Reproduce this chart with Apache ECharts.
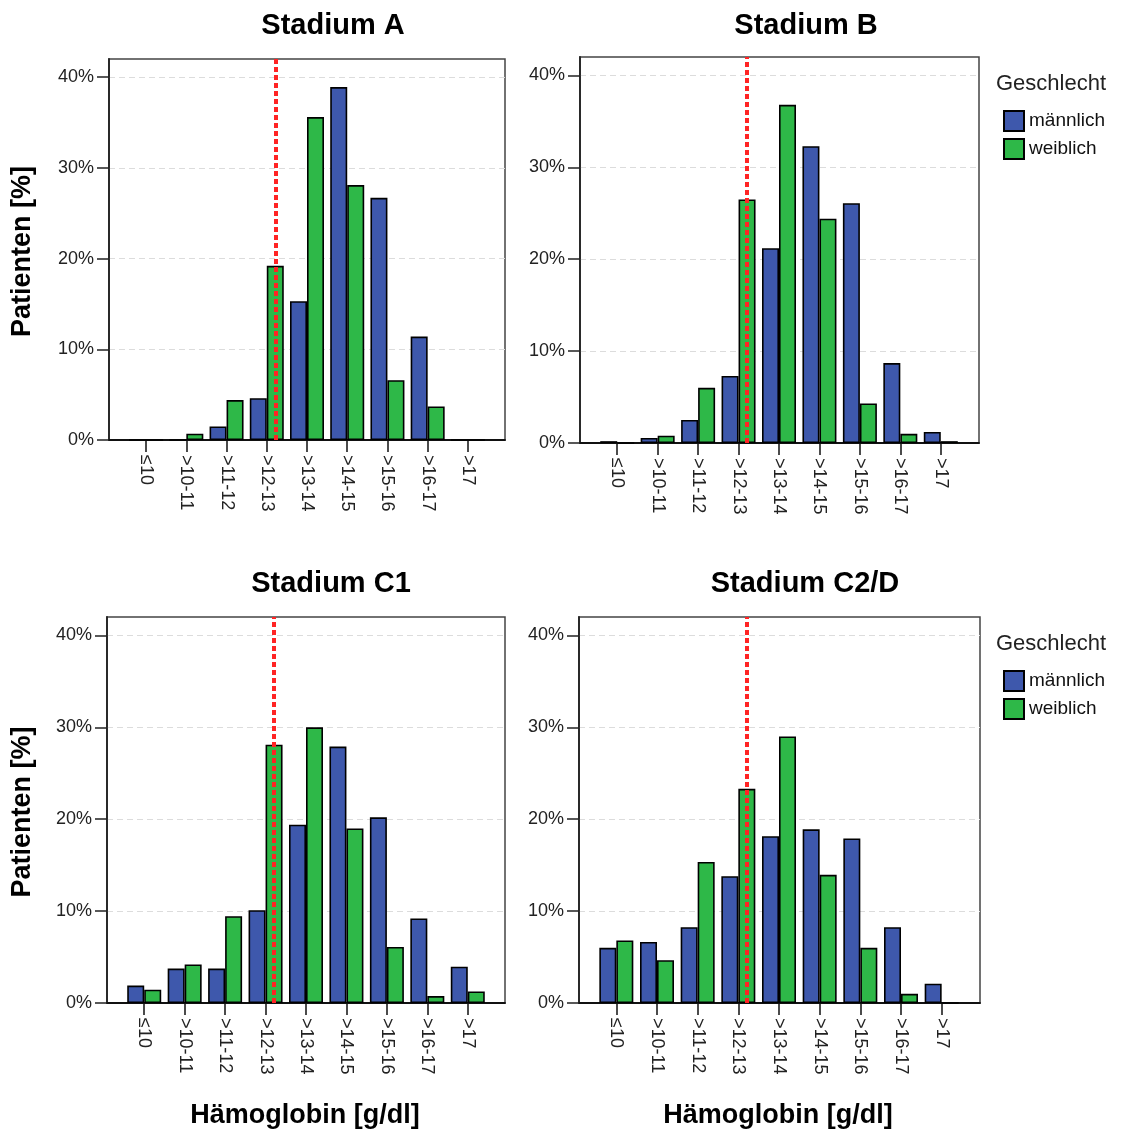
<!DOCTYPE html>
<html>
<head>
<meta charset="utf-8">
<title>Hämoglobin nach Stadium</title>
<script src="https://cdn.jsdelivr.net/npm/echarts@6/dist/echarts.min.js"></script>
<style>
  html, body { margin: 0; padding: 0; background: #fff; }
  #chart { width: 1125px; height: 1131px; }
</style>
</head>
<body>
<div id="chart"></div>
<script>
// Kategorien der Hämoglobin-Klassen
const categories = ['≤10', '>10-11', '>11-12', '>12-13', '>13-14', '>14-15', '>15-16', '>16-17', '>17'];
const yTicks = [0, 10, 20, 30, 40];

// Werte in %
const maleA = [0, 0, 1.5, 4.6, 15.3, 38.9, 26.7, 11.4, 0];
const femaleA = [0, 0.7, 4.4, 19.2, 35.6, 28.1, 6.6, 3.7, 0];
const maleB = [0.2, 0.55, 2.5, 7.3, 21.2, 32.3, 26.1, 8.7, 1.2];
const femaleB = [0, 0.8, 6.0, 26.5, 36.8, 24.4, 4.3, 1.0, 0.2];
const maleC1 = [1.9, 3.75, 3.75, 10.1, 19.4, 27.9, 20.2, 9.2, 3.95];
const femaleC1 = [1.45, 4.2, 9.45, 28.1, 30.0, 19.0, 6.1, 0.75, 1.25];
const maleD = [6.0, 6.65, 8.25, 13.8, 18.15, 18.9, 17.9, 8.25, 2.1];
const femaleD = [6.8, 4.65, 15.35, 23.3, 29.0, 13.95, 6.0, 1.0, 0];

const thresholdCategory = '>12-13';

const FONT = '"Liberation Sans", Arial, sans-serif';
const BLUE = '#3e58ac';
const GREEN = '#2eb848';

// Layout der vier Teilgrafiken (Rahmen + innerer Bereich für die Balken)
const panels = [
  {title: 'Stadium A', male: maleA, female: femaleA,
   frame: {left: 109, top: 59, width: 396, height: 381}, inner: {left: 126, width: 362},
   titleX: 333, titleY: 26, yName: true, xName: false, legend: false},
  {title: 'Stadium B', male: maleB, female: femaleB,
   frame: {left: 580, top: 57, width: 399, height: 386}, inner: {left: 597, width: 364},
   titleX: 806, titleY: 26, yName: false, xName: false, legend: true},
  {title: 'Stadium C1', male: maleC1, female: femaleC1,
   frame: {left: 107, top: 617, width: 398, height: 386}, inner: {left: 124, width: 364},
   titleX: 331, titleY: 584, yName: true, xName: true, legend: false},
  {title: 'Stadium C2/D', male: maleD, female: femaleD,
   frame: {left: 579, top: 617, width: 401, height: 386}, inner: {left: 596, width: 366},
   titleX: 805, titleY: 584, yName: false, xName: true, legend: true}
];

const grid = [];
const xAxis = [];
const yAxis = [];
const series = [];
const legend = [];
const graphic = [];

panels.forEach((p, i) => {
  const fi = 2 * i;
  const ii = 2 * i + 1;

  // Rahmen mit Y-Achse und Gitterlinien
  grid.push({
    left: p.frame.left, top: p.frame.top, width: p.frame.width, height: p.frame.height,
    show: true, borderColor: '#444', borderWidth: 1.5, backgroundColor: 'transparent'
  });
  // innerer Bereich für die Balken
  grid.push({
    left: p.inner.left, top: p.frame.top, width: p.inner.width, height: p.frame.height
  });

  // nur die Grundlinie des Rahmens
  xAxis.push({
    gridIndex: fi, type: 'category', data: categories,
    axisLine: {show: true, lineStyle: {color: '#111', width: 1.8}},
    axisTick: {show: false}, axisLabel: {show: false}, splitLine: {show: false}
  });
  xAxis.push({
    gridIndex: ii, type: 'category', data: categories,
    axisLine: {show: false},
    axisTick: {show: true, alignWithLabel: true, length: 12, lineStyle: {color: '#111', width: 1.5}},
    axisLabel: {rotate: -90, margin: 15, fontSize: 18, color: '#222', fontFamily: FONT, interval: 0}
  });

  yAxis.push({
    gridIndex: fi, type: 'value', min: 0, max: 42,
    axisLine: {show: true, lineStyle: {color: '#222', width: 1.8}},
    axisTick: {show: true, length: 12, customValues: yTicks, lineStyle: {color: '#222', width: 1.5}},
    axisLabel: {customValues: yTicks, formatter: '{value}%', margin: 15, fontSize: 18, color: '#222', fontFamily: FONT},
    splitLine: {show: true, lineStyle: {color: '#dcdcdc', type: [6, 4], width: 1}}
  });
  yAxis.push({gridIndex: ii, type: 'value', min: 0, max: 42, show: false});

  series.push({
    name: 'männlich', type: 'bar', xAxisIndex: ii, yAxisIndex: ii,
    data: p.male, barWidth: 17, barGap: '0%',
    itemStyle: {color: BLUE, borderColor: '#000', borderWidth: 1.6}
  });
  series.push({
    name: 'weiblich', type: 'bar', xAxisIndex: ii, yAxisIndex: ii,
    data: p.female, barWidth: 17, barGap: '0%',
    itemStyle: {color: GREEN, borderColor: '#000', borderWidth: 1.6},
    markLine: {
      silent: true, symbol: ['none', 'none'], label: {show: false},
      lineStyle: {color: '#ff2424', type: [5, 3], width: 4},
      data: [{xAxis: thresholdCategory}]
    }
  });

  graphic.push({
    type: 'text', x: p.titleX, y: p.titleY,
    style: {text: p.title, font: 'bold 29px ' + FONT, fill: '#000', textAlign: 'center', textVerticalAlign: 'middle'}
  });

  if (p.yName) {
    graphic.push({
      type: 'text', x: 23, y: p.frame.top + p.frame.height / 2 + 2, rotation: Math.PI / 2,
      style: {text: 'Patienten [%]', font: 'bold 27px ' + FONT, fill: '#000', textAlign: 'center', textVerticalAlign: 'middle'}
    });
  }
  if (p.xName) {
    graphic.push({
      type: 'text', x: p.inner.left + p.inner.width / 2 - 1, y: 1116,
      style: {text: 'Hämoglobin [g/dl]', font: 'bold 27px ' + FONT, fill: '#000', textAlign: 'center', textVerticalAlign: 'middle'}
    });
  }
  if (p.legend) {
    graphic.push({
      type: 'text', x: 996, y: p.frame.top + 27,
      style: {text: 'Geschlecht', font: '22px ' + FONT, fill: '#222', textAlign: 'left', textVerticalAlign: 'middle'}
    });
    legend.push({
      data: ['männlich', 'weiblich'], orient: 'vertical', left: 1003, top: p.frame.top + 53,
      itemWidth: 20, itemHeight: 20, itemGap: 6, padding: 0, icon: 'rect', selectedMode: false,
      textStyle: {fontSize: 19, color: '#111', fontFamily: FONT}
    });
  }
});

const chart = echarts.init(document.getElementById('chart'));
chart.setOption({
  animation: false,
  backgroundColor: '#fff',
  textStyle: {fontFamily: FONT},
  grid: grid,
  xAxis: xAxis,
  yAxis: yAxis,
  legend: legend,
  graphic: graphic,
  series: series
});
</script>
</body>
</html>
